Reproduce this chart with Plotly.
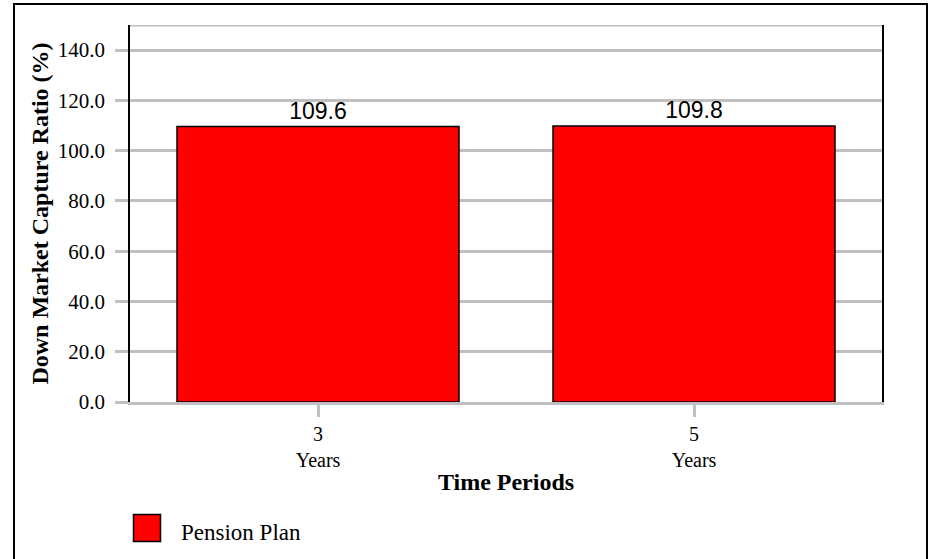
import plotly.graph_objects as go

# Data
periods = ["3<br>Years", "5<br>Years"]
down_capture = [109.6, 109.8]
series_name = "Pension Plan"
y_ticks = [0, 20, 40, 60, 80, 100, 120, 140]
y_tick_text = [f"{v:.1f}" for v in y_ticks]
y_max = 150

W, H = 932, 559
M_L, M_R, M_T, M_B = 130, 50, 25, 157
PW, PH = W - M_L - M_R, H - M_T - M_B

GRID = "#c0c0c0"
SERIF = "Liberation Serif, Times New Roman, serif"
SANS = "Liberation Sans, Arial, sans-serif"


def px_x(px):
    return (px - M_L) / PW


def px_y(py):
    return (H - M_B - py) / PH


fig = go.Figure()
fig.add_trace(go.Bar(
    x=periods,
    y=down_capture,
    name=series_name,
    marker=dict(color="#ff0000", line=dict(color="#000000", width=1.5)),
    texttemplate="%{y:.1f}",
    textposition="outside",
    textfont=dict(family=SANS, size=23, color="#000000"),
    cliponaxis=False,
    showlegend=False,
))

shapes = [
    # top boundary of the plotting area
    dict(type="line", xref="paper", yref="y", x0=0, x1=1, y0=y_max, y1=y_max,
         line=dict(color=GRID, width=3), layer="below"),
    # outer frame around the whole chart
    dict(type="rect", xref="paper", yref="paper",
         x0=px_x(14), x1=px_x(927), y0=px_y(562), y1=px_y(4),
         line=dict(color="#000000", width=2), fillcolor="rgba(0,0,0,0)"),
    # legend key
    dict(type="rect", xref="paper", yref="paper",
         x0=px_x(133.5), x1=px_x(160.5), y0=px_y(541.5), y1=px_y(514.5),
         line=dict(color="#000000", width=1.5), fillcolor="#ff0000"),
]

annotations = [
    dict(text=series_name, xref="paper", yref="paper", x=px_x(179), y=px_y(532),
         xanchor="left", yanchor="middle", showarrow=False,
         font=dict(family=SERIF, size=23, color="#000000")),
]

fig.update_layout(
    width=W, height=H,
    margin=dict(l=M_L, r=M_R, t=M_T, b=M_B, pad=0),
    paper_bgcolor="#ffffff",
    plot_bgcolor="#ffffff",
    bargap=0.25,
    shapes=shapes,
    annotations=annotations,
    xaxis=dict(
        type="category",
        showgrid=False,
        showline=True, linecolor=GRID, linewidth=3, mirror=False,
        ticks="outside", ticklen=12, tickwidth=3, tickcolor=GRID,
        tickfont=dict(family=SERIF, size=20, color="#000000"),
        title=dict(text="<b>Time Periods</b>", font=dict(family=SERIF, size=24, color="#000000"),
                   standoff=4),
        layer="below traces",
        automargin=False,
    ),
    yaxis=dict(
        range=[0, y_max],
        tickvals=y_ticks, ticktext=y_tick_text,
        showgrid=True, gridcolor=GRID, gridwidth=3,
        zeroline=False,
        showline=True, linecolor="#000000", linewidth=1.5, mirror=True,
        ticks="outside", ticklen=13, tickwidth=3, tickcolor=GRID,
        ticklabelstandoff=6,
        tickfont=dict(family=SERIF, size=21, color="#000000"),
        title=dict(text="<b>Down Market Capture Ratio (%)</b>",
                   font=dict(family=SERIF, size=24, color="#000000"), standoff=2),
        layer="below traces",
        automargin=False,
    ),
)

fig.write_html("out.html")
